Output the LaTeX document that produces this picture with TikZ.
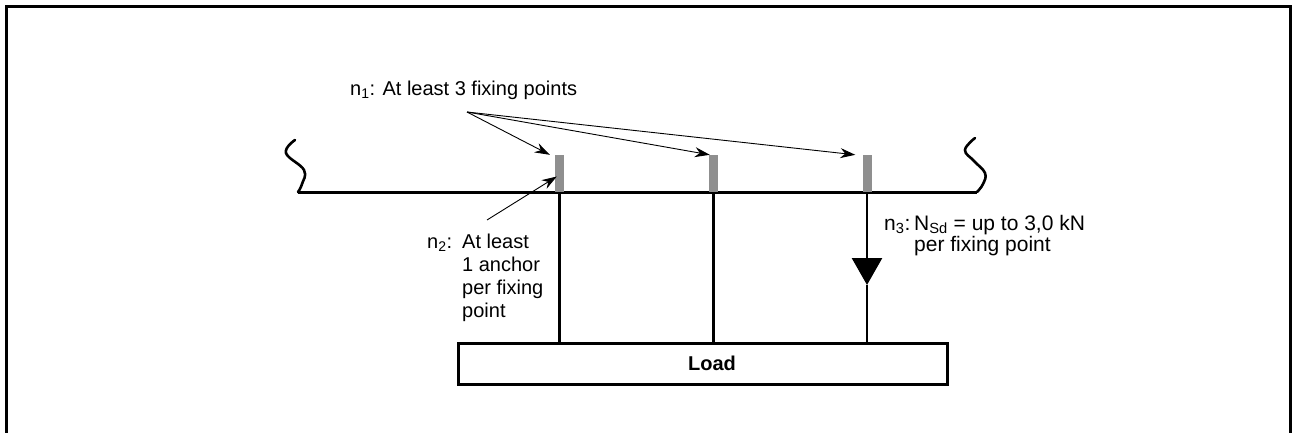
\documentclass[tikz,border=0pt]{standalone}
\usepackage{fontspec}
\setmainfont{Liberation Sans}
\usetikzlibrary{arrows.meta}

\definecolor{fixgray}{HTML}{8F8F8F}

\tikzset{
  fixpt/.style={rectangle, fill=fixgray, inner sep=0pt, minimum width=9pt, minimum height=37pt},
  beam/.style={line width=3pt},
  hanger/.style={line width=2.6pt},
  pointer/.style={line width=0.9pt, -{Stealth[length=15pt,width=10pt]}},
  lbl/.style={inner sep=0pt, font=\fontsize{20}{23}\selectfont},
  loadbox/.style={draw, line width=3pt, minimum width=489pt, minimum height=41pt, inner sep=0pt, font=\fontsize{20}{23}\selectfont\bfseries},
}

\begin{document}
\begin{tikzpicture}[x=1pt, y=-1pt]
  \useasboundingbox (0,0) rectangle (1292,432);
  % cadre
  \draw[line width=3pt] (6,440) -- (6,6.5) -- (1290.5,6.5) -- (1290.5,440);

  % poutre et coupures
  \coordinate (ls) at (298,192);
  \coordinate (rs) at (977,192);
  \draw[beam] (ls) -- (rs);
  \draw[line width=2.6pt, line cap=round] plot[smooth, tension=0.7]
    coordinates {(295,140) (286,153) (304,170) (302,184) (298,192)};
  \draw[line width=2.6pt, line cap=round] plot[smooth, tension=0.7]
    coordinates {(975,138) (965,150) (974,161) (985,173) (983,184) (977,192)};

  % points de fixation
  \node[fixpt] (fp1) at (559.5,173.5) {};
  \node[fixpt] (fp2) at (713.5,173.5) {};
  \node[fixpt] (fp3) at (867,173.5) {};

  % charge
  \node[loadbox] (load) at (702.5,363.5) {\hspace*{19pt}Load};

  % suspentes
  \draw[hanger] (fp1.south) -- (fp1.south |- load.north);
  \draw[hanger] (fp2.south) -- (fp2.south |- load.north);
  \coordinate (tip) at (867,285);
  \draw[hanger, -{Triangle[length=27pt,width=30pt]}] (fp3.south) -- (tip);
  \draw[hanger] (tip) -- (fp3.south |- load.north);

  % n1
  \node[lbl, anchor=base west] (n1) at (350,95) {n\textsubscript{1}: At least 3 fixing points};
  \coordinate (src) at (467,112);
  \draw[pointer] (src) -- ([xshift=-5pt]fp1.north west);
  \draw[pointer] (src) -- ([xshift=1pt]fp2.north west);
  \draw[pointer] (src) -- ([xshift=-7pt]fp3.north west);

  % n2
  \node[lbl, anchor=base west] (n2) at (427,248)
    {\begin{tabular}[t]{@{}p{35pt}@{}l@{}}
      n\textsubscript{2}: & At least\\
                          & 1 anchor\\
                          & per fixing\\
                          & point
     \end{tabular}};
  \coordinate (n2tail) at (487,220);
  \draw[pointer] (n2tail) -- ([xshift=2pt,yshift=-3pt]fp1.west);

  % n3
  \node[lbl, anchor=base west, font=\fontsize{21}{21}\selectfont] (n3) at (884,230)
    {\begin{tabular}[t]{@{}p{30pt}@{}l@{}}
      n\textsubscript{3}: & N\textsubscript{Sd} = up to 3,0 kN\\
                          & per fixing point
     \end{tabular}};
\end{tikzpicture}
\end{document}
